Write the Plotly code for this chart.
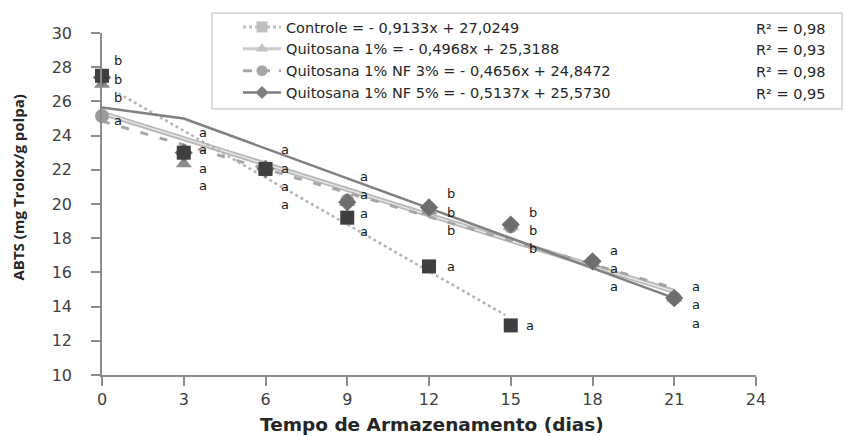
import plotly.graph_objects as go

# ---------------- data ----------------
days = [0, 3, 6, 9, 12, 15, 18, 21]
controle_x = [0, 3, 6, 9, 12, 15]
controle_y = [27.5, 23.0, 22.05, 19.2, 16.35, 12.9]
quit1_y = [27.0, 22.35, 22.0, 20.1, 19.6, 18.7, 16.5, 14.5]
nf3_y = [25.15, 23.0, 22.0, 20.2, 19.7, 18.7, 16.6, 14.5]
nf5_y = [27.4, 23.0, 22.05, 20.1, 19.8, 18.8, 16.65, 14.5]

# trend lines (from the equations printed in the legend)
trend_names = ["Controle = - 0,9133x + 27,0249",
               "Quitosana 1% = - 0,4968x + 25,3188",
               "Quitosana 1% NF 3% = - 0,4656x + 24,8472",
               "Quitosana 1% NF 5% = - 0,5137x + 25,5730"]
trend_r2 = ["R² = 0,98", "R² = 0,93", "R² = 0,98", "R² = 0,95"]
controle_slope, controle_int = -0.9133, 27.0249
quit1_slope, quit1_int = -0.4968, 25.3188
nf3_slope, nf3_int = -0.4656, 24.8472
controle_trend_x = [0.6, 14.8]
quit1_trend_x = [0, 21]
nf3_trend_x = [0, 21]
# NF 5% line as drawn in the figure
nf5_line_x = [0, 3, 21]
nf5_line_y = [25.65, 25.0, 14.5]

# significance letters
letter_x = [0.6, 0.6, 0.6, 0.6,
            3.7, 3.7, 3.7, 3.7,
            6.7, 6.7, 6.7, 6.7,
            9.6, 9.6, 9.6, 9.6,
            12.8, 12.8, 12.8, 12.8,
            15.8, 15.8, 15.8, 15.7,
            18.8, 18.8, 18.8,
            21.8, 21.8, 21.8]
letter_y = [28.4, 27.3, 26.2, 24.9,
            24.2, 23.2, 22.1, 21.1,
            23.2, 22.1, 21.0, 20.0,
            21.6, 20.55, 19.45, 18.4,
            20.6, 19.5, 18.45, 16.35,
            19.5, 18.45, 17.4, 12.9,
            17.3, 16.2, 15.2,
            15.2, 14.1, 13.0]
letter_txt = ["b", "b", "b", "a",
              "a", "a", "a", "a",
              "a", "a", "a", "a",
              "a", "a", "a", "a",
              "b", "b", "b", "a",
              "b", "b", "b", "a",
              "a", "a", "a",
              "a", "a", "a"]

x_ticks = [0, 3, 6, 9, 12, 15, 18, 21, 24]
y_ticks = [10, 12, 14, 16, 18, 20, 22, 24, 26, 28, 30]

# ---------------- figure ----------------
fig = go.Figure()

def line_vals(xs, m, b):
    return [m * v + b for v in xs]

# trend lines (no legend)
fig.add_trace(go.Scatter(x=quit1_trend_x, y=line_vals(quit1_trend_x, quit1_slope, quit1_int),
                         mode="lines", line=dict(color="#b8b8b8", width=5), showlegend=False,
                         hoverinfo="skip"))
fig.add_trace(go.Scatter(x=quit1_trend_x, y=line_vals(quit1_trend_x, quit1_slope, quit1_int),
                         mode="lines", line=dict(color="#e6e6e6", width=1.5), showlegend=False,
                         hoverinfo="skip"))
fig.add_trace(go.Scatter(x=nf3_trend_x, y=line_vals(nf3_trend_x, nf3_slope, nf3_int),
                         mode="lines", line=dict(color="#a6a6a6", width=3, dash="8px,12px"),
                         showlegend=False, hoverinfo="skip"))
fig.add_trace(go.Scatter(x=controle_trend_x, y=line_vals(controle_trend_x, controle_slope, controle_int),
                         mode="lines", line=dict(color="#b4b4b4", width=2.5, dash="dot"),
                         showlegend=False, hoverinfo="skip"))
fig.add_trace(go.Scatter(x=nf5_line_x, y=nf5_line_y, mode="lines",
                         line=dict(color="#808080", width=2.5), showlegend=False, hoverinfo="skip"))

# data markers
fig.add_trace(go.Scatter(x=days, y=quit1_y, mode="markers", showlegend=False, cliponaxis=False,
                         marker=dict(symbol="triangle-up", size=14, color="#8c8c8c")))
fig.add_trace(go.Scatter(x=days, y=nf3_y, mode="markers", showlegend=False, cliponaxis=False,
                         marker=dict(symbol="circle", size=14, color="#9a9a9a")))
fig.add_trace(go.Scatter(x=days, y=nf5_y, mode="markers", showlegend=False, cliponaxis=False,
                         marker=dict(symbol="diamond", size=14, color="#6e6e6e")))
fig.add_trace(go.Scatter(x=controle_x, y=controle_y, mode="markers", showlegend=False, cliponaxis=False,
                         marker=dict(symbol="square", size=14, color="#3f3f3f")))

# legend-only entries
leg_styles = [
    dict(line=dict(color="#c0c0c0", width=3, dash="dot"), marker=dict(symbol="square", size=11, color="#c0c0c0")),
    dict(line=dict(color="#cccccc", width=3), marker=dict(symbol="triangle-up", size=11, color="#c4c4c4")),
    dict(line=dict(color="#a6a6a6", width=3, dash="dash"), marker=dict(symbol="circle", size=11, color="#a6a6a6")),
    dict(line=dict(color="#7f7f7f", width=2.5), marker=dict(symbol="diamond", size=10, color="#7f7f7f")),
]
for name, st in zip(trend_names, leg_styles):
    fig.add_trace(go.Scatter(x=[None], y=[None], mode="lines+markers", name=name, **st))

annotations = []
for lx, ly, lt in zip(letter_x, letter_y, letter_txt):
    annotations.append(dict(x=lx, y=ly, xref="x", yref="y", text=lt, showarrow=False,
                            font=dict(family="DejaVu Sans", size=13, color="#1a1a1a"),
                            xanchor="center", yanchor="middle"))

# R² column of the legend box
r2_rows = [28, 49.5, 71.5, 93]
for txt, py in zip(trend_r2, r2_rows):
    annotations.append(dict(x=(828 - 102) / 654, y=(375 - py) / 343, xref="paper", yref="paper",
                            text=txt, showarrow=False, xanchor="right", yanchor="middle",
                            font=dict(family="DejaVu Sans", size=14.5, color="#262626")))

# axis titles
annotations.append(dict(x=(432 - 102) / 654, y=(375 - 425) / 343, xref="paper", yref="paper",
                        text="<b>Tempo de Armazenamento (dias)</b>", showarrow=False,
                        xanchor="center", yanchor="middle",
                        font=dict(family="DejaVu Sans", size=18.5, color="#262626")))
annotations.append(dict(x=(18 - 102) / 654, y=(375 - 187) / 343, xref="paper", yref="paper",
                        text="<b>ABTS (mg Trolox/g polpa)</b>", showarrow=False, textangle=-90,
                        xanchor="center", yanchor="middle",
                        font=dict(family="Open Sans", size=15, color="#262626")))

axis_common = dict(showgrid=False, zeroline=False, showline=True, linecolor="#8c8c8c", linewidth=1.5,
                   ticks="outside", ticklen=9, tickcolor="#8c8c8c", tickwidth=1.5,
                   tickfont=dict(family="DejaVu Sans", size=16, color="#404040"))

fig.update_layout(
    width=844, height=436,
    margin=dict(l=102, r=88, t=32, b=61),
    paper_bgcolor="white", plot_bgcolor="white",
    xaxis=dict(range=[0, 24], tickvals=x_ticks, ticktext=[str(v) for v in x_ticks], **axis_common),
    yaxis=dict(range=[10, 30], tickvals=y_ticks, ticktext=[str(v) for v in y_ticks],
               ticklabelstandoff=16, **axis_common),
    legend=dict(x=(238 - 102) / 654, y=(375 - 11) / 343, xanchor="left", yanchor="top",
                bgcolor="rgba(0,0,0,0)", borderwidth=0, itemwidth=38,
                font=dict(family="DejaVu Sans", size=14.5, color="#262626"), tracegroupgap=0),
    annotations=annotations,
    shapes=[dict(type="rect", xref="paper", yref="paper",
                 x0=(212 - 102) / 654, x1=(842 - 102) / 654,
                 y0=(375 - 108) / 343, y1=(375 - 12) / 343,
                 line=dict(color="#c8c8c8", width=1.2), fillcolor="rgba(0,0,0,0)")],
    showlegend=True,
)

fig.write_html("out.html")
